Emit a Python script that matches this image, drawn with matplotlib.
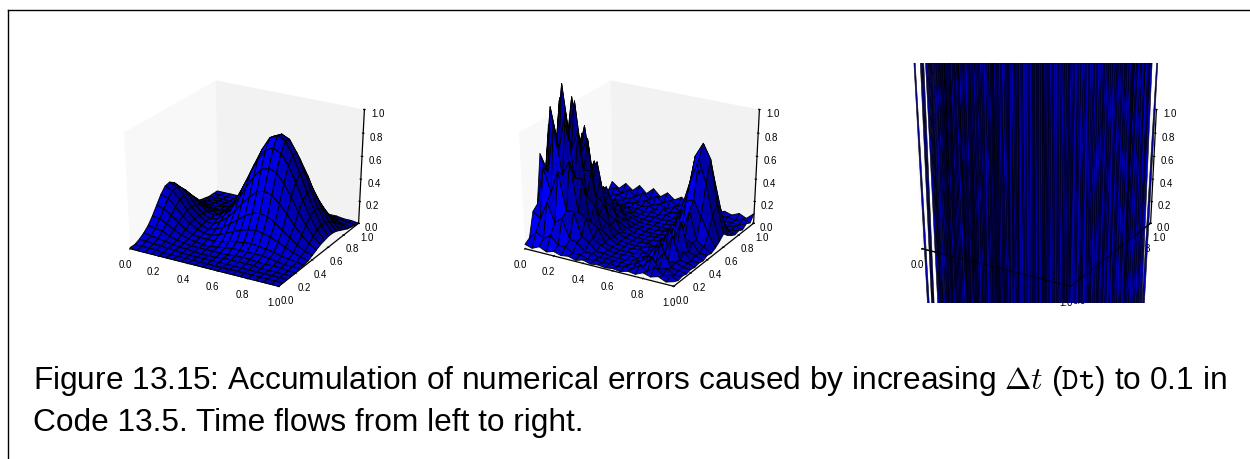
#!/usr/bin/env python3
# -*- coding: utf-8 -*-
import numpy as np
import matplotlib
matplotlib.use('Agg')
import matplotlib.pyplot as plt
from matplotlib.lines import Line2D

plt.rcParams['font.family'] = ['Liberation Sans', 'DejaVu Sans']
plt.rcParams['mathtext.fontset'] = 'cm'

W, H = 1250, 460

grid = [0.0, 0.05, 0.1, 0.15, 0.2, 0.25, 0.3, 0.35, 0.4, 0.45, 0.5,
        0.55, 0.6, 0.65, 0.7, 0.75, 0.8, 0.85, 0.9, 0.95, 1.0]
ticks = [0.0, 0.2, 0.4, 0.6, 0.8, 1.0]

caption_1 = r"Figure 13.15: Accumulation of numerical errors caused by increasing $\Delta t$ ($\mathtt{Dt}$) to 0.1 in"
caption_2 = "Code 13.5. Time flows from left to right."

# rows are y, columns are x
z_first = [
    [.01,.00,.00,.00,.00,.00,.00,.00,.00,.00,.00,.00,.00,.00,.00,.00,.00,.00,.00,.00,.00],
    [.01,.01,.01,.01,.00,.00,.00,.00,.00,.00,.00,.00,.00,.00,.00,.00,.00,.00,.00,.00,.00],
    [.03,.03,.02,.02,.01,.01,.00,.00,.00,.00,.00,.00,.00,.00,.00,.00,.00,.00,.00,.00,.00],
    [.06,.05,.04,.03,.02,.01,.01,.00,.00,.00,.00,.01,.01,.01,.01,.01,.00,.00,.00,.00,.00],
    [.10,.09,.08,.05,.03,.02,.01,.01,.01,.01,.01,.01,.02,.02,.02,.01,.01,.01,.01,.00,.00],
    [.16,.15,.12,.08,.05,.03,.02,.01,.01,.02,.03,.04,.04,.04,.04,.04,.03,.02,.01,.01,.01],
    [.23,.21,.17,.12,.07,.04,.03,.03,.03,.04,.06,.07,.08,.09,.08,.07,.06,.04,.03,.02,.01],
    [.30,.28,.22,.15,.10,.06,.04,.04,.06,.09,.12,.15,.17,.18,.17,.15,.12,.09,.06,.04,.02],
    [.35,.32,.26,.18,.11,.07,.05,.07,.10,.15,.20,.25,.29,.30,.29,.25,.20,.15,.10,.06,.04],
    [.36,.33,.27,.18,.12,.08,.07,.11,.16,.23,.32,.39,.45,.47,.45,.39,.32,.23,.16,.10,.06],
    [.33,.30,.25,.17,.11,.08,.09,.14,.22,.32,.44,.54,.62,.64,.62,.54,.44,.32,.22,.14,.08],
    [.27,.25,.21,.15,.10,.08,.11,.17,.27,.40,.54,.67,.76,.79,.76,.67,.54,.40,.27,.17,.09],
    [.20,.19,.16,.11,.08,.07,.11,.19,.30,.44,.59,.73,.84,.87,.84,.73,.59,.44,.30,.18,.10],
    [.14,.12,.10,.07,.06,.07,.11,.18,.29,.43,.59,.73,.83,.86,.83,.73,.59,.43,.29,.18,.10],
    [.08,.07,.06,.04,.04,.06,.10,.16,.26,.38,.52,.64,.74,.77,.74,.64,.52,.38,.26,.16,.09],
    [.04,.04,.03,.03,.04,.05,.07,.13,.21,.30,.41,.51,.58,.61,.58,.51,.41,.30,.21,.13,.07],
    [.02,.02,.02,.02,.02,.03,.05,.09,.15,.22,.29,.36,.41,.43,.41,.36,.29,.22,.15,.09,.05],
    [.01,.01,.01,.01,.01,.02,.03,.06,.09,.14,.19,.23,.26,.27,.26,.23,.19,.14,.09,.06,.03],
    [.00,.00,.00,.00,.00,.01,.02,.03,.05,.08,.11,.13,.15,.16,.15,.13,.11,.08,.05,.03,.02],
    [.00,.00,.00,.00,.00,.00,.01,.02,.03,.04,.05,.07,.08,.08,.08,.07,.05,.04,.03,.02,.01],
    [.00,.00,.00,.00,.00,.00,.00,.01,.01,.02,.02,.03,.03,.04,.03,.03,.02,.02,.01,.01,.00],
]

z_second = [
    [.04,.02,.05,.02,.04,.02,.03,.01,.03,.01,.02,.01,.02,.01,.03,.02,.05,.03,.05,.02,.04],
    [.07,.14,.10,.14,.07,.07,.03,.03,.01,.02,.01,.02,.01,.03,.02,.07,.03,.09,.03,.05,.02],
    [.28,.23,.39,.23,.28,.11,.10,.03,.03,.01,.02,.01,.02,.01,.05,.03,.13,.04,.06,.02,.03],
    [.32,.65,.45,.65,.32,.33,.12,.09,.02,.02,.01,.01,.01,.03,.03,.10,.05,.16,.04,.03,.02],
    [.73,.59,1.01,.59,.73,.30,.26,.09,.05,.02,.01,.01,.02,.01,.05,.05,.20,.05,.06,.03,.03],
    [.55,1.11,.77,1.11,.55,.56,.20,.16,.04,.02,.01,.01,.01,.03,.04,.14,.08,.25,.05,.04,.02],
    [.93,.76,1.29,.76,.93,.38,.33,.11,.06,.02,.01,.01,.02,.01,.06,.07,.28,.09,.09,.03,.03],
    [.57,1.14,.80,1.14,.57,.58,.20,.16,.04,.02,.01,.01,.01,.03,.05,.16,.10,.32,.07,.05,.02],
    [.82,.67,1.14,.67,.82,.33,.29,.10,.05,.02,.01,.01,.02,.01,.07,.09,.34,.14,.12,.04,.04],
    [.44,.89,.62,.89,.44,.45,.16,.13,.03,.02,.01,.01,.01,.03,.05,.18,.14,.36,.12,.07,.03],
    [.57,.46,.79,.46,.57,.23,.20,.07,.04,.01,.01,.01,.02,.02,.06,.20,.40,.43,.30,.16,.05],
    [.27,.54,.38,.54,.27,.28,.10,.08,.02,.02,.01,.01,.01,.03,.09,.33,.56,.75,.56,.29,.08],
    [.30,.24,.41,.24,.30,.12,.11,.04,.02,.01,.01,.01,.02,.03,.12,.37,.74,.86,.74,.37,.12],
    [.13,.26,.18,.26,.13,.13,.05,.04,.01,.01,.01,.01,.01,.03,.09,.31,.56,.74,.56,.30,.08],
    [.13,.10,.17,.10,.13,.05,.04,.02,.01,.01,.01,.01,.02,.02,.06,.16,.32,.37,.30,.15,.05],
    [.05,.09,.07,.09,.05,.05,.02,.02,.01,.02,.01,.02,.01,.02,.03,.05,.10,.11,.08,.06,.03],
    [.04,.03,.06,.03,.04,.02,.03,.01,.03,.01,.03,.01,.03,.01,.03,.02,.04,.03,.04,.03,.04],
    [.02,.03,.02,.04,.02,.04,.02,.04,.02,.04,.02,.04,.02,.03,.02,.03,.02,.03,.02,.04,.02],
    [.04,.02,.05,.02,.05,.02,.05,.02,.05,.02,.05,.02,.04,.01,.03,.01,.03,.02,.03,.02,.05],
    [.03,.07,.03,.08,.03,.08,.03,.08,.03,.07,.03,.06,.02,.04,.02,.03,.02,.04,.02,.05,.03],
    [.09,.04,.10,.05,.11,.05,.11,.05,.10,.05,.09,.04,.07,.03,.05,.02,.05,.03,.06,.03,.09],
]

# blown up, far outside the axes, only the sign and the rough size matter
z_third = [
    [ 5,-4, 7,-6, 4,-8, 6,-3, 8,-5, 4,-7, 5,-6, 8,-4, 6,-7, 3,-5, 7],
    [-6, 8,-5, 4,-7, 6,-8, 5,-3, 7,-6, 4,-8, 5,-7, 6,-4, 8,-5, 6,-4],
    [ 8,-3, 6,-7, 5,-4, 8,-6, 7,-4, 5,-8, 6,-3, 4,-6, 7,-5, 8,-7, 5],
    [-4, 7,-8, 5,-6, 8,-5, 7,-6, 3,-8, 6,-5, 7,-8, 4,-6, 5,-3, 7,-6],
    [ 6,-5, 4,-8, 7,-3, 6,-8, 4,-7, 8,-5, 4,-6, 3,-7, 8,-4, 6,-8, 4],
    [-7, 4,-6, 7,-4, 5,-7, 4,-8, 6,-3, 7,-8, 4,-5, 8,-6, 7,-4, 5,-8],
    [ 4,-8, 5,-3, 8,-6, 4,-5, 7,-6, 4,-3, 6,-8, 7,-4, 5,-8, 6,-3, 7],
    [-5, 6,-7, 8,-3, 7,-6, 8,-4, 5,-7, 8,-4, 6,-3, 7,-8, 4,-6, 8,-5],
    [ 7,-6, 3,-5, 6,-8, 5,-3, 7,-8, 6,-4, 5,-7, 8,-5, 3,-6, 7,-4, 6],
    [-8, 5,-4, 6,-7, 4,-8, 6,-5, 4,-7, 5,-8, 3,-6, 7,-4, 8,-5, 6,-7],
    [ 3,-7, 8,-4, 5,-6, 7,-8, 3,-5, 6,-8, 4,-7, 5,-3, 8,-6, 4,-7, 5],
    [-6, 4,-5, 7,-8, 3,-4, 6,-7, 8,-5, 3,-6, 8,-4, 5,-7, 3,-8, 4,-6],
    [ 5,-8, 6,-3, 4,-7, 8,-5, 4,-6, 7,-8, 5,-4, 6,-8, 4,-5, 7,-3, 8],
    [-7, 3,-6, 8,-5, 6,-4, 7,-8, 5,-3, 6,-7, 8,-5, 4,-6, 7,-4, 8,-5],
    [ 8,-5, 7,-4, 6,-8, 3,-6, 5,-7, 4,-6, 8,-3, 7,-5, 8,-4, 6,-7, 3],
    [-4, 6,-3, 5,-8, 7,-5, 4,-3, 8,-6, 7,-4, 5,-8, 6,-3, 5,-8, 4,-6],
    [ 6,-7, 8,-6, 3,-4, 5,-8, 6,-4, 7,-5, 3,-8, 4,-7, 6,-5, 8,-4, 4],
    [-5, 8,-4, 7,-6, 5,-3, 6,-7, 4,-8, 5,-6, 7,-3, 8,-4, 7,-6, 5,-5],
    [ 4,-6, 5,-8, 7,-3, 8,-4, 5,-7, 3,-6, 8,-5, 4,-7, 5,-8, 3,-6, 3],
    [-8, 7,-6, 3,-5, 8,-7, 5,-6, 8,-4, 7,-3, 6,-5, 8,-6, 4,-5, 3,-3],
    [ 5,-4, 6,-7, 8,-5, 4,-6, 3,-8, 5,-7, 6,-4, 3,-8, 4,-5, 3,-3, 3],
]

def add_panel(fig, left, z, lw=0.7, overlay_axes=False):
    ax = fig.add_axes([left / W, 1 - 304 / H, 310 / W, 240 / H], projection='3d')
    # old mplot3d filled the whole 4:3 box, keep it from squaring the axes
    ax.apply_aspect = lambda position=None: ax._set_position(ax.get_position(original=True), 'active')
    ax.set_box_aspect((1, 1, 1), zoom=0.93)
    ax.computed_zorder = False
    ax.patch.set_alpha(0)

    X, Y = np.meshgrid(grid, grid)
    ax.plot_surface(X, Y, np.array(z, dtype=float), rstride=1, cstride=1, color='b',
                    edgecolor='k', linewidth=lw, zorder=1)

    ax.set_xlim(0, 1)
    ax.set_ylim(0, 1)
    ax.set_zlim(0, 1)
    ax.set_xticks(ticks)
    ax.set_yticks(ticks)
    ax.set_zticks(ticks)
    ax.grid(False)
    for axis in (ax.xaxis, ax.yaxis, ax.zaxis):
        axis.pane.set_edgecolor('none')
        axis.line.set_linewidth(0.9)
        axis.set_tick_params(labelsize=7, pad=-2, width=0.7)
        axis._axinfo['tick']['inward_factor'] = 0.06
        axis._axinfo['tick']['outward_factor'] = 0.06

    if overlay_axes:
        # axis lines show faintly through the blown up surface
        ax.plot(grid, [grid[0]] * len(grid), [grid[0]] * len(grid), color='k', lw=0.7, zorder=2)
        ax.plot([grid[-1]] * len(grid), grid, [grid[0]] * len(grid), color='k', lw=0.7, zorder=2)
    return ax

def main():
    fig = plt.figure(figsize=(W / 100, H / 100), dpi=100)

    add_panel(fig, 87, z_first)
    add_panel(fig, 482, z_second, lw=0.6)
    add_panel(fig, 879, z_third, lw=0.4, overlay_axes=True)

    fig.text(33 / W, 1 - 389 / H, caption_1, fontsize=22.8, color='k', va='baseline')
    fig.text(33 / W, 1 - 431 / H, caption_2, fontsize=22.8, color='k', va='baseline')

    # page frame
    fig.add_artist(Line2D([7.5 / W, 1], [1 - 10.5 / H, 1 - 10.5 / H], color='k', lw=1.0))
    fig.add_artist(Line2D([7.5 / W, 7.5 / W], [1 - 10.5 / H, 0], color='k', lw=1.0))

    fig.savefig('out.png', dpi=100)

if __name__ == '__main__':
    main()
